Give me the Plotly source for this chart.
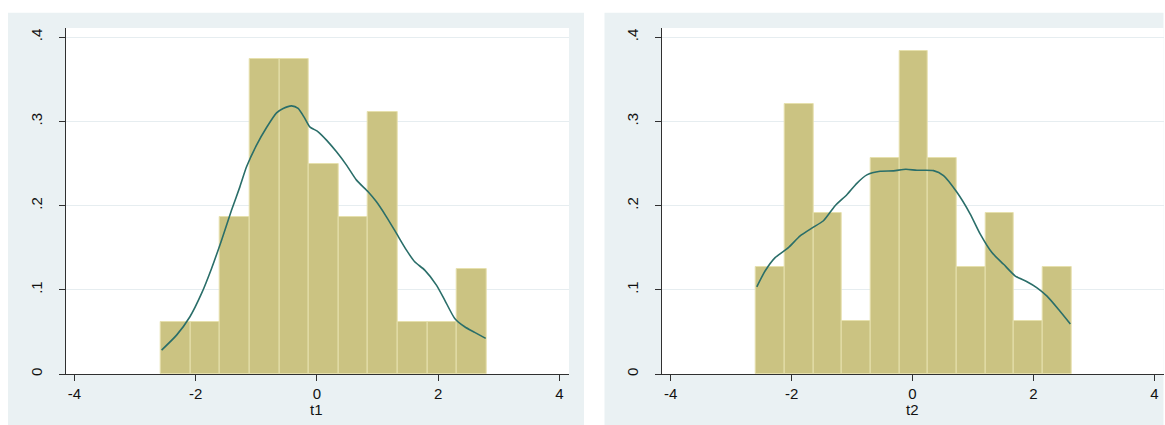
import plotly.graph_objects as go

# ---------------- data ----------------
t1_bin_start = -2.571
t1_bin_width = 0.488
t1_density = [0.0616, 0.0616, 0.1863, 0.3736, 0.3736, 0.2489, 0.1863, 0.3114, 0.0616, 0.0616, 0.1242]

t2_bin_start = -2.588
t2_bin_width = 0.474
t2_density = [0.1274, 0.3204, 0.1915, 0.0635, 0.2563, 0.3840, 0.2563, 0.1274, 0.1915, 0.0635, 0.1274]

t1_kx = [-2.560, -2.313, -2.093, -1.901, -1.736, -1.571, -1.406, -1.269, -1.159, -0.994, -0.829,
         -0.664, -0.555, -0.417, -0.308, -0.198, -0.115, 0.022, 0.160, 0.325, 0.490, 0.655,
         0.846, 0.984, 1.149, 1.314, 1.479, 1.615, 1.780, 1.973, 2.110, 2.275, 2.439, 2.604, 2.786]
t1_ky = [0.0284, 0.0462, 0.0680, 0.0957, 0.1254, 0.1590, 0.1947, 0.2223, 0.2461, 0.2719, 0.2928,
         0.3102, 0.3154, 0.3185, 0.3154, 0.3036, 0.2936, 0.2877, 0.2778, 0.2639, 0.2481, 0.2303,
         0.2164, 0.2045, 0.1867, 0.1670, 0.1471, 0.1333, 0.1234, 0.1056, 0.0878, 0.0660, 0.0561, 0.0494, 0.0423]

t2_kx = [-2.576, -2.439, -2.273, -2.053, -1.859, -1.666, -1.473, -1.280, -1.086, -0.921, -0.755,
         -0.535, -0.315, -0.110, 0.073, 0.348, 0.513, 0.735, 0.955, 1.121, 1.314, 1.507,
         1.700, 1.894, 2.060, 2.225, 2.417, 2.611]
t2_ky = [0.1036, 0.1223, 0.1382, 0.1501, 0.1641, 0.1733, 0.1820, 0.1999, 0.2130, 0.2265, 0.2365,
         0.2408, 0.2413, 0.2432, 0.2420, 0.2416, 0.2357, 0.2158, 0.1900, 0.1661, 0.1442, 0.1303,
         0.1163, 0.1096, 0.1024, 0.0925, 0.0766, 0.0594]

x_tickvals = [-4, -2, 0, 2, 4]
x_ticktext = ["-4", "-2", "0", "2", "4"]
y_tickvals = [0, 0.1, 0.2, 0.3, 0.4]
y_ticktext = ["0", ".1", ".2", ".3", ".4"]
x_titles = ["t1", "t2"]

# ---------------- style ----------------
W, H = 1165, 425
BAR = "#cbc382"
BAR_LINE = "#e6e0ad"
KDE = "#2a6e69"
PANEL = "#eaf1f3"
GRID = "#e6edf0"
AXIS = "#303030"
FONT = "Liberation Sans, Arial, sans-serif"
FS = 15

M_T, M_B = 28, 51
plot_h = H - M_T - M_B

def px_x(p):
    return p / W

def px_y(p):
    return (H - M_B - p) / plot_h

fig = go.Figure()

def centers(start, width, n):
    return [start + width * (i + 0.5) for i in range(n)]

panels = [
    (t1_bin_start, t1_bin_width, t1_density, t1_kx, t1_ky, "x", "y"),
    (t2_bin_start, t2_bin_width, t2_density, t2_kx, t2_ky, "x2", "y2"),
]
for start, width, dens, kx, ky, xa, ya in panels:
    fig.add_trace(go.Bar(
        x=centers(start, width, len(dens)), y=dens, width=width,
        marker=dict(color=BAR, line=dict(color=BAR_LINE, width=1)),
        xaxis=xa, yaxis=ya, showlegend=False, hoverinfo="skip"))
    fig.add_trace(go.Scatter(
        x=kx, y=ky, mode="lines", line=dict(color=KDE, width=1.6, shape="spline", smoothing=0.6),
        xaxis=xa, yaxis=ya, showlegend=False, hoverinfo="skip"))

xdoms = [[px_x(65.7), px_x(569.0)], [px_x(661.7), px_x(1163.5)]]
xranges = [[-4.142, 4.160], [-4.149, 4.152]]

axis_common_x = dict(
    tickmode="array", tickvals=x_tickvals, ticktext=x_ticktext,
    ticks="outside", ticklen=6, tickwidth=1, tickcolor=AXIS,
    showline=True, linecolor=AXIS, linewidth=1, showgrid=False, zeroline=False,
    tickfont=dict(family=FONT, size=FS, color="#111"), automargin=False,
)
axis_common_y = dict(
    tickmode="array", tickvals=y_tickvals, ticktext=y_ticktext, range=[0, 0.411],
    ticks="outside", ticklen=6, tickwidth=1, tickcolor=AXIS, tickangle=-90,
    ticklabelstandoff=11,
    showline=True, linecolor=AXIS, linewidth=1, showgrid=True, gridcolor=GRID, gridwidth=1,
    zeroline=False, tickfont=dict(family=FONT, size=FS, color="#111"), automargin=False,
    domain=[0, 1],
)

shapes = []
for x0, x1 in [(8, 584), (604.5, 1163.5)]:
    shapes.append(dict(type="rect", xref="paper", yref="paper", layer="below",
                       x0=px_x(x0), x1=px_x(x1), y0=px_y(425), y1=px_y(12.7),
                       fillcolor=PANEL, line=dict(width=0)))
for dom in xdoms:
    shapes.append(dict(type="rect", xref="paper", yref="paper", layer="below",
                       x0=dom[0], x1=dom[1], y0=0, y1=1,
                       fillcolor="white", line=dict(width=0)))

fig.update_layout(
    width=W, height=H,
    margin=dict(l=0, r=0, t=M_T, b=M_B, pad=0),
    paper_bgcolor="white", plot_bgcolor="white",
    bargap=0,
    xaxis=dict(domain=xdoms[0], range=xranges[0], anchor="y", **axis_common_x),
    yaxis=dict(anchor="x", **axis_common_y),
    xaxis2=dict(domain=xdoms[1], range=xranges[1], anchor="y2", **axis_common_x),
    yaxis2=dict(anchor="x2", **axis_common_y),
    shapes=shapes,
    annotations=[
        dict(text=x_titles[0], x=0, xref="x", y=px_y(399.5), yref="paper", showarrow=False,
             font=dict(family=FONT, size=FS, color="#111"), xanchor="center", yanchor="top",
             borderpad=0),
        dict(text=x_titles[1], x=0, xref="x2", y=px_y(399.5), yref="paper", showarrow=False,
             font=dict(family=FONT, size=FS, color="#111"), xanchor="center", yanchor="top",
             borderpad=0),
    ],
)

fig.write_html("out.html", config={"displayModeBar": False},
               post_script="document.body.style.margin='0';document.body.style.overflow='hidden';")
